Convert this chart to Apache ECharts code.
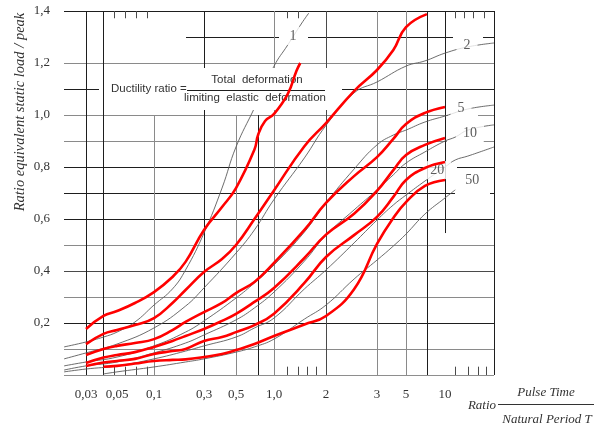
<!DOCTYPE html>
<html><head><meta charset="utf-8">
<script src="https://cdn.jsdelivr.net/npm/echarts@6/dist/echarts.min.js"></script>
<style>html,body{margin:0;padding:0;background:#fff}#c{width:598px;height:427px}</style>
</head><body><div id="c"></div>
<script>
// ---- x-axis (hand-drawn, non-uniform log scale): tick ratios, labels, positions along axis ----
const xTickRatio  = [0.03, 0.05, 0.1, 0.3, 0.5, 1, 2, 3, 5, 10];
const xTickLabels = ['0,03','0,05','0,1','0,3','0,5','1,0','2','3','5','10'];
const xTickPos    = [22, 53, 90, 140, 172, 210, 262, 313, 342, 381];
const xAxisMax = 430;
const yTickLabels = ['0,2','0,4','0,6','0,8','1,0','1,2','1,4'];

// ---- red curves (ductility ratio 1,2,5,10,20,50) ----
const red1X = [0.03,0.04,0.05,0.07,0.1,0.15,0.2,0.3,0.4,0.5,0.7,0.75,0.85,1,1.2,1.35,1.42];
const red1Y = [0.177,0.227,0.246,0.277,0.319,0.377,0.435,0.558,0.646,0.719,0.867,0.925,0.977,1.004,1.08,1.17,1.2];
const red2X = [0.03,0.04,0.05,0.07,0.1,0.15,0.2,0.3,0.4,0.5,0.7,1,1.5,2,2.5,3,4,5,7.25];
const red2Y = [0.119,0.158,0.173,0.192,0.219,0.277,0.327,0.396,0.446,0.5,0.6,0.71,0.88,0.969,1.092,1.173,1.25,1.338,1.388];
const red5X = [0.03,0.04,0.05,0.07,0.1,0.15,0.2,0.3,0.4,0.5,0.7,1,1.5,2,2.5,3,4,5,7,10];
const red5Y = [0.077,0.1,0.112,0.123,0.138,0.173,0.204,0.242,0.277,0.315,0.358,0.431,0.558,0.662,0.765,0.838,0.908,0.965,1.008,1.031];
const red10X = [0.03,0.04,0.05,0.07,0.1,0.15,0.2,0.3,0.4,0.5,0.7,1,1.5,2,2.5,3,4,5,7,10];
const red10Y = [0.046,0.067,0.077,0.088,0.108,0.131,0.15,0.177,0.208,0.235,0.281,0.335,0.45,0.54,0.62,0.708,0.788,0.846,0.885,0.912];
const red20X = [0.03,0.04,0.05,0.07,0.1,0.15,0.2,0.3,0.4,0.5,0.7,1,1.5,2,2.5,3,4,5,7,10];
const red20Y = [0.035,0.048,0.054,0.062,0.081,0.092,0.1,0.131,0.146,0.165,0.192,0.236,0.354,0.454,0.538,0.608,0.685,0.75,0.796,0.819];
const red50X = [0.04,0.05,0.07,0.1,0.15,0.2,0.3,0.4,0.5,0.7,1,1.5,2,2.5,3,4,5,7,10];
const red50Y = [0.032,0.035,0.044,0.054,0.058,0.06,0.069,0.081,0.096,0.119,0.15,0.194,0.227,0.33,0.504,0.604,0.665,0.727,0.75];

// ---- gray (original) curves ----
const gray1X = [0.0209,0.03,0.04,0.05,0.07,0.1,0.15,0.2,0.3,0.4,0.5,0.7,1,1.2,1.45,1.59];
const gray1Y = [0.108,0.127,0.146,0.165,0.204,0.269,0.331,0.404,0.546,0.719,0.877,1.027,1.188,1.269,1.354,1.392];
const gray2X = [0.0209,0.03,0.05,0.1,0.2,0.3,0.5,0.7,1,1.5,2,2.5,3,5,7,10,15,23.9];
const gray2Y = [0.062,0.085,0.119,0.181,0.265,0.335,0.469,0.558,0.675,0.835,0.96,1.085,1.127,1.188,1.208,1.238,1.262,1.277];
const gray5X = [0.0209,0.03,0.05,0.1,0.2,0.3,0.5,0.7,1,1.5,2,2.5,3,4,5,7,10,15,23.9];
const gray5Y = [0.035,0.05,0.069,0.112,0.165,0.208,0.296,0.354,0.423,0.55,0.662,0.792,0.885,0.923,0.942,0.973,0.996,1.023,1.038];
const gray10X = [0.0209,0.03,0.05,0.1,0.2,0.3,0.5,0.7,1,1.5,2,2.5,3,4,5,7,10,12,15,23.9];
const gray10Y = [0.019,0.035,0.05,0.085,0.123,0.154,0.212,0.258,0.319,0.438,0.538,0.635,0.712,0.77,0.815,0.858,0.9,0.915,0.942,0.962];
const gray20X = [0.0209,0.03,0.05,0.1,0.2,0.3,0.5,0.7,1,1.5,2,2.5,3,4,5,7,10,12,15,23.9];
const gray20Y = [0.012,0.023,0.035,0.062,0.092,0.112,0.146,0.181,0.219,0.331,0.404,0.508,0.596,0.654,0.692,0.746,0.8,0.827,0.842,0.877];
const gray50X = [0.04,0.05,0.1,0.2,0.3,0.5,0.7,1,1.5,2,2.5,3,4,5,7,10,12];
const gray50Y = [0.004,0.012,0.031,0.05,0.062,0.088,0.108,0.138,0.215,0.269,0.369,0.442,0.496,0.542,0.619,0.681,0.712];

// ---- curve labels ----
const curveLabelText  = ['1','2','5','10','20','50'];
const curveLabelRatio = [1.29, 14.8, 13.3, 15.6, 8.7, 16.2];
const curveLabelValue = [1.304, 1.269, 1.027, 0.931, 0.788, 0.75];

// ---- scale helper: ratio -> axis units (piecewise log between drawn ticks) ----
const lt = xTickRatio.map(Math.log10);
function warp(r) {
  const L = Math.log10(r);
  let i = 0;
  if (L <= lt[1]) i = 0;
  else if (L >= lt[lt.length - 2]) i = lt.length - 2;
  else { while (!(L >= lt[i] && L <= lt[i + 1])) i++; }
  return xTickPos[i] + (L - lt[i]) / (lt[i + 1] - lt[i]) * (xTickPos[i + 1] - xTickPos[i]);
}
const pts = (xs, ys) => xs.map((x, i) => [warp(x), ys[i]]);

// ---- grid decoration (hand-drawn grid with gaps) ----
const D = '#1e1e1e', G = '#8a8a8a', M = '#4a4a4a';
const hLines = [
  [1.4, D, [[0,430]]], [1.3, D, [[122,215],[244,389],[419,430]]], [1.2, G, [[0,430]]],
  [1.1, D, [[0,35],[278,430]]], [1.0, G, [[0,384],[414,430]]], [0.9, G, [[0,383],[419,430]]],
  [0.8, D, [[0,381],[393,430]]], [0.7, D, [[0,391],[426,430]]], [0.6, D, [[0,430]]],
  [0.5, G, [[0,430]]], [0.4, M, [[0,430]]], [0.3, G, [[0,430]]], [0.2, D, [[0,430]]],
  [0.1, G, [[0,430]]], [0.0, D, [[0,430]]]
];
const vLines = [
  [0.03,0,1.4,D],[0.04,0,1.4,D],[0.1,0,1.0,G],[0.3,0,1.4,D],[0.5,0,1.0,G],[0.75,0,1.0,D],
  [1,0,1.4,G],[2,0,1.4,M],[3,0,1.4,G],[5,0,1.4,G],[7.25,0,1.4,D],[10,0.546,1.4,D]
];
const minorBottom = [0.048,0.058,0.072,0.088,1.2,1.38,1.55,1.75,12,15,18,21];
const minorTop = [0.048,0.058,0.072,0.088,1.2,1.38,12,14,16.5,20];

const gridData = [];
hLines.forEach(([v, c, segs]) => segs.forEach(s => gridData.push({coords: [[s[0], v], [s[1], v]], lineStyle: {color: c}})));
vLines.forEach(([r, a, b, c]) => gridData.push({coords: [[warp(r), a], [warp(r), b]], lineStyle: {color: c}}));
gridData.push({coords: [[xAxisMax, 0], [xAxisMax, 1.4]], lineStyle: {color: D}});
minorBottom.forEach(r => gridData.push({coords: [[warp(r), 0], [warp(r), 0.032]], lineStyle: {color: M}}));
minorTop.forEach(r => gridData.push({coords: [[warp(r), 1.4], [warp(r), 1.372]], lineStyle: {color: M}}));

const redSets = [[red1X,red1Y],[red2X,red2Y],[red5X,red5Y],[red10X,red10Y],[red20X,red20Y],[red50X,red50Y]];
const graySets = [[gray1X,gray1Y],[gray2X,gray2Y],[gray5X,gray5Y],[gray10X,gray10Y],[gray20X,gray20Y],[gray50X,gray50Y]];

const series = [{
  type: 'lines', coordinateSystem: 'cartesian2d', z: 1, silent: true,
  lineStyle: {width: 1, opacity: 1}, data: gridData
}];
graySets.forEach(([xs, ys]) => series.push({
  type: 'line', data: pts(xs, ys), z: 2, smooth: 0.45, symbol: 'none',
  lineStyle: {color: '#5c5c5c', width: 0.9}
}));
series.push({
  type: 'scatter', z: 3, symbolSize: 1, itemStyle: {color: 'rgba(0,0,0,0)'},
  data: curveLabelText.map((t, i) => ({value: [warp(curveLabelRatio[i]), curveLabelValue[i]], name: t})),
  label: {show: true, position: 'inside', formatter: p => p.name, backgroundColor: '#fff',
    padding: [2, 7], color: '#333', fontFamily: 'Liberation Serif', fontSize: 14}
});
redSets.forEach(([xs, ys]) => series.push({
  type: 'line', data: pts(xs, ys), z: 6, smooth: 0.45, symbol: 'none',
  lineStyle: {color: '#ff0000', width: 2.6}
}));

const chart = echarts.init(document.getElementById('c'), null, {renderer: 'canvas'});
chart.setOption({
  animation: false,
  backgroundColor: '#fff',
  grid: {left: 64, right: 104, top: 11, bottom: 52, containLabel: false, outerBoundsMode: 'none'},
  xAxis: {
    type: 'value', min: 0, max: xAxisMax,
    axisLine: {show: false}, axisTick: {show: false}, splitLine: {show: false},
    axisLabel: {
      customValues: xTickRatio.map(warp), margin: 13,
      formatter: v => { const i = xTickPos.findIndex(p => Math.abs(p - v) < 0.01); return i >= 0 ? xTickLabels[i] : ''; },
      fontFamily: 'Liberation Serif', fontSize: 13, color: '#333'
    }
  },
  yAxis: {
    type: 'value', min: 0, max: 1.4, interval: 0.2,
    axisLine: {show: false}, axisTick: {show: false}, splitLine: {show: false},
    axisLabel: {
      margin: 14, fontFamily: 'Liberation Serif', fontSize: 13, color: '#333',
      formatter: v => { const k = Math.round(v * 5); return k >= 1 ? yTickLabels[k - 1] : ''; }
    }
  },
  graphic: [
    {type: 'text', x: 20, y: 112, rotation: Math.PI / 2, z: 10,
     style: {text: 'Ratio equivalent static load / peak', align: 'center', verticalAlign: 'middle',
       font: 'italic 14.5px "Liberation Serif"', fill: '#333'}},
    {type: 'rect', shape: {x: 104, y: 68, width: 238, height: 42}, z: 4, style: {fill: '#fff'}},
    {type: 'text', x: 111, y: 89, z: 5,
     style: {text: 'Ductility ratio =', align: 'left', verticalAlign: 'middle', font: '11.5px "Liberation Sans"', fill: '#333'}},
    {type: 'line', z: 5, shape: {x1: 187, y1: 90.5, x2: 325, y2: 90.5}, style: {stroke: '#1e1e1e', lineWidth: 1}},
    {type: 'text', x: 257, y: 80, z: 5,
     style: {text: 'Total  deformation', align: 'center', verticalAlign: 'middle', font: '11.5px "Liberation Sans"', fill: '#333'}},
    {type: 'text', x: 255, y: 98, z: 5,
     style: {text: 'limiting  elastic  deformation', align: 'center', verticalAlign: 'middle', font: '11.5px "Liberation Sans"', fill: '#333'}},
    {type: 'text', x: 482, y: 406, z: 10,
     style: {text: 'Ratio', align: 'center', verticalAlign: 'middle', font: 'italic 13px "Liberation Serif"', fill: '#333'}},
    {type: 'line', z: 10, shape: {x1: 498, y1: 404.5, x2: 594, y2: 404.5}, style: {stroke: '#333', lineWidth: 1}},
    {type: 'text', x: 546, y: 393, z: 10,
     style: {text: 'Pulse Time', align: 'center', verticalAlign: 'middle', font: 'italic 13px "Liberation Serif"', fill: '#333'}},
    {type: 'text', x: 547, y: 420, z: 10,
     style: {text: 'Natural Period T', align: 'center', verticalAlign: 'middle', font: 'italic 13px "Liberation Serif"', fill: '#333'}}
  ],
  series: series
});
</script></body></html>
